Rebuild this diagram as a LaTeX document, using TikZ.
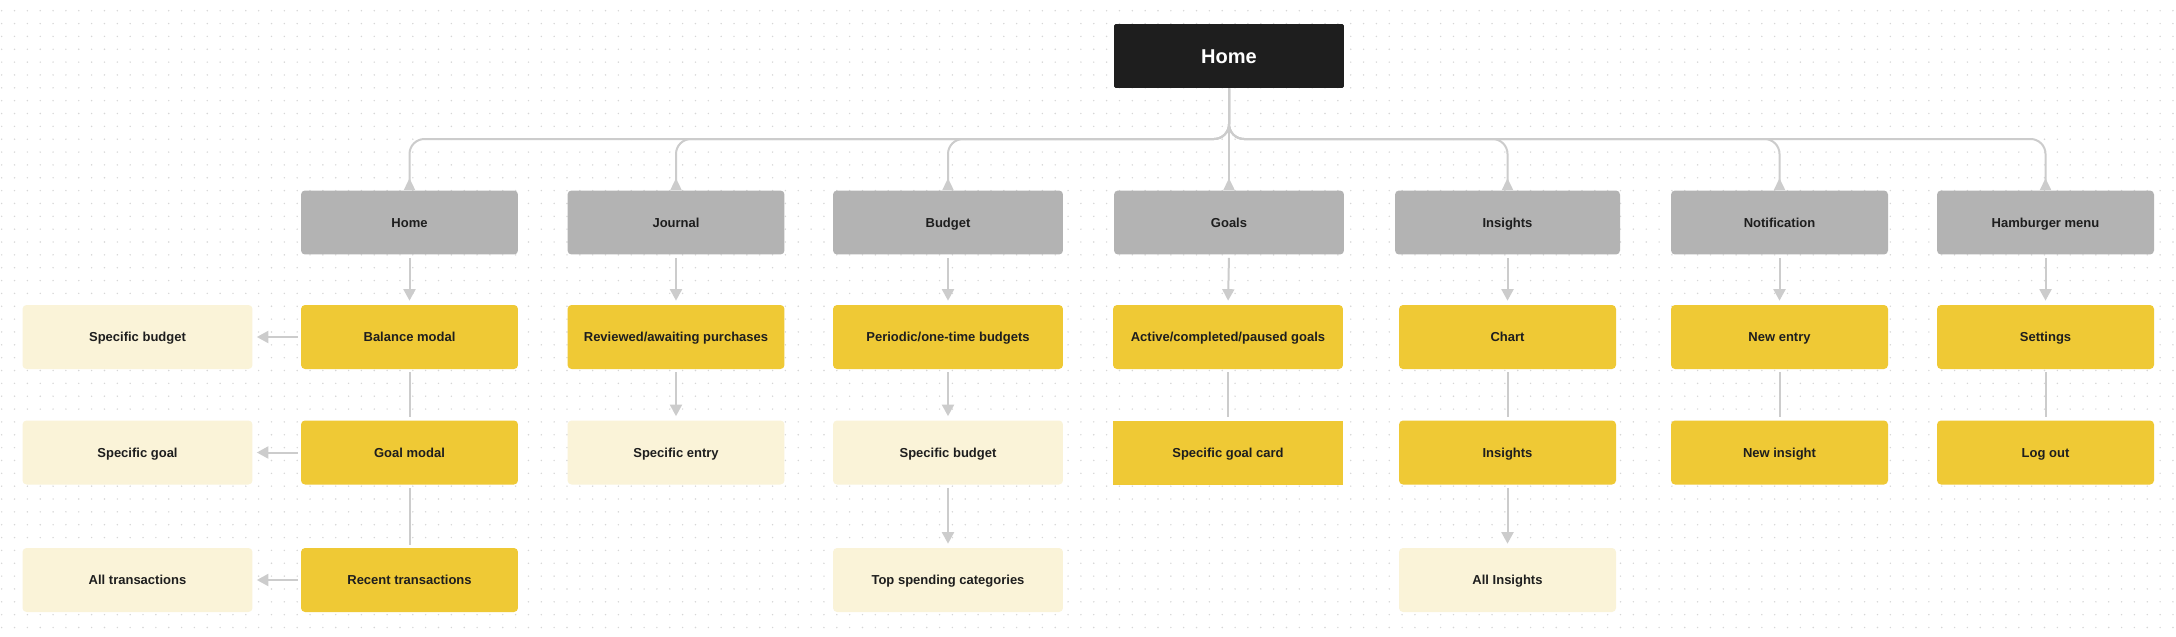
\documentclass[tikz,border=0pt]{standalone}
\usepackage{fontspec}
\setmainfont{Liberation Sans}
\usetikzlibrary{arrows.meta}
\definecolor{rootfill}{HTML}{1E1E1E}
\definecolor{pagefill}{HTML}{B3B3B3}
\definecolor{mainfill}{HTML}{EFC935}
\definecolor{subfill}{HTML}{FAF3D8}
\definecolor{linkgray}{HTML}{CCCCCC}
\definecolor{textdark}{HTML}{1E1E1E}
\definecolor{dotgray}{HTML}{D6D6D6}
\tikzset{
  box/.style={rectangle, rounded corners=0.08cm, inner sep=0pt, text=textdark,
    minimum height=1.28cm, align=center, text height=5.3pt, text depth=0pt,
    font=\fontsize{7.4}{9}\selectfont\bfseries},
  rootbox/.style={box, fill=rootfill, text=white, rounded corners=0.03cm,
    minimum width=4.6cm, text height=8.2pt, text depth=0pt,
    font=\fontsize{11.4}{13}\selectfont\bfseries},
  pagebox/.style={box, fill=pagefill, minimum width=4.34cm},
  mainbox/.style={box, fill=mainfill, minimum width=4.34cm},
  subbox/.style={box, fill=subfill, minimum width=4.34cm},
  link/.style={draw=linkgray, line width=0.04cm},
  branch/.style={link, rounded corners=0.3cm, -{Triangle[reversed,width=0.22cm,length=0.24cm]}},
  arr/.style={link, -{Triangle[width=0.24cm,length=0.23cm]}, shorten <=0.06cm, shorten >=0.08cm},
  plain/.style={link, shorten <=0.06cm, shorten >=0.06cm}
}
\begin{document}
\begin{tikzpicture}[x=0.02cm,y=-0.02cm]
    % Background and dot grid
    \fill[white] (0,0) rectangle (2176,636);
    \useasboundingbox (0,0) rectangle (2176,636);
    \foreach \r in {0,...,48}
      \draw[dotgray, line width=0.032cm, line cap=round, dash pattern=on 0cm off 0.257cm]
        (1.7,{10.7+\r*12.85}) -- (2176,{10.7+\r*12.85});

    % Root
    \node[rootbox] (top) at (1229,56) {Home};

    % Pages
    \node[pagebox] (home) at (409.5,222.5) {Home};
    \node[pagebox] (journal) at (676,222.5) {Journal};
    \node[pagebox, minimum width=4.6cm] (budget) at (948,222.5) {Budget};
    \node[pagebox, minimum width=4.6cm] (goals) at (1229,222.5) {Goals};
    \node[pagebox, minimum width=4.5cm] (insights) at (1507.5,222.5) {Insights};
    \node[pagebox] (notif) at (1779.5,222.5) {Notification};
    \node[pagebox] (menu) at (2045.5,222.5) {Hamburger menu};

    % First level
    \node[mainbox] (balance) at (409.5,337) {Balance modal};
    \node[mainbox] (reviewed) at (676,337) {Reviewed/awaiting purchases};
    \node[mainbox, minimum width=4.6cm] (periodic) at (948,337) {Periodic/one-time budgets};
    \node[mainbox, minimum width=4.6cm] (active) at (1228,337) {Active/completed/paused goals};
    \node[mainbox] (chart) at (1507.5,337) {Chart};
    \node[mainbox] (newentry) at (1779.5,337) {New entry};
    \node[mainbox] (settings) at (2045.5,337) {Settings};

    % Second level
    \node[mainbox] (goalmodal) at (409.5,452.5) {Goal modal};
    \node[subbox] (specentry) at (676,452.5) {Specific entry};
    \node[subbox, minimum width=4.6cm] (specbudget) at (948,452.5) {Specific budget};
    \node[mainbox, minimum width=4.6cm, rounded corners=0pt] (goalcard) at (1228,452.5) {Specific goal card};
    \node[mainbox] (insightsb) at (1507.5,452.5) {Insights};
    \node[mainbox] (newinsight) at (1779.5,452.5) {New insight};
    \node[mainbox] (logout) at (2045.5,452.5) {Log out};

    % Third level
    \node[mainbox] (recent) at (409.5,580) {Recent transactions};
    \node[subbox, minimum width=4.6cm] (topspend) at (948,580) {Top spending categories};
    \node[subbox] (allinsights) at (1507.5,580) {All Insights};

    % Side column
    \node[subbox, minimum width=4.6cm] (lbudget) at (137.5,337) {Specific budget};
    \node[subbox, minimum width=4.6cm] (lgoal) at (137.5,452.5) {Specific goal};
    \node[subbox, minimum width=4.6cm] (ltrans) at (137.5,580) {All transactions};

    % Root to pages
    \coordinate (bus) at (0,139);
    \foreach \p in {home,journal,budget,insights,notif,menu}
      \draw[branch] (top.south) |- (\p.north |- bus) -- (\p.north);
    \draw[branch] (top.south) -- (goals.north);

    % Pages to first level
    \foreach \a/\b in {home/balance,journal/reviewed,budget/periodic,goals/active,
                       insights/chart,notif/newentry,menu/settings}
      \draw[arr] (\a.south) -- (\b.north);

    % Down the columns
    \draw[arr] (reviewed) -- (specentry);
    \draw[arr] (periodic) -- (specbudget);
    \draw[arr] (specbudget) -- (topspend);
    \draw[arr] (insightsb) -- (allinsights);
    \draw[plain] (balance) -- (goalmodal);
    \draw[plain] (goalmodal) -- (recent);
    \draw[plain] (active) -- (goalcard);
    \draw[plain] (chart) -- (insightsb);
    \draw[plain] (newentry) -- (newinsight);
    \draw[plain] (settings) -- (logout);

    % Side links
    \draw[arr] (balance) -- (lbudget);
    \draw[arr] (goalmodal) -- (lgoal);
    \draw[arr] (recent) -- (ltrans);
\end{tikzpicture}
\end{document}
